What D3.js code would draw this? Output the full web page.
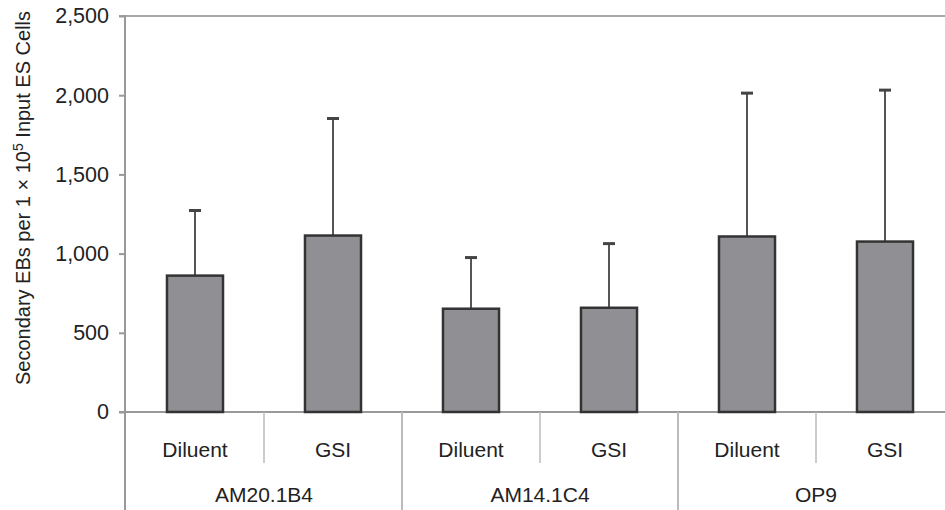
<!DOCTYPE html>
<html lang="en">
<head>
    <meta charset="UTF-8">
    <title>Secondary EBs</title>
    <style>
        body{
            margin: 0;
            background: #fff;
        }
        svg{
            display: block;
            font-family: "Liberation Sans", Arial, sans-serif;
        }
        .tick text{
            font-size: 21.5px;
            fill: #222;
        }
    </style>
    <script src="https://cdn.jsdelivr.net/npm/d3@7"></script>
</head>
<body>
<script>
    const width = 945
    const height = 510

    // values
    const groups = ["AM20.1B4", "AM14.1C4", "OP9"]
    const treatments = ["Diluent", "GSI"]
    const means = [861, 1114, 652, 658, 1108, 1076]
    const errs = [411, 739, 323, 405, 905, 956]
    const yTicks = [0, 500, 1000, 1500, 2000, 2500]

    const data = []
    groups.forEach((g, gi) => {
        treatments.forEach((t, ti) => {
            const i = gi * treatments.length + ti
            data.push({key: g + "|" + t, group: g, treat: t, mean: means[i], err: errs[i]})
        })
    })

    let svg = d3.select("body").append("svg")
        .attr("width", width)
        .attr("height", height)

    const y = d3.scaleLinear().domain([0, 2500]).range([412, 16])

    // plot runs past the right edge of the picture
    const x = d3.scaleBand()
        .domain(data.map(d => d.key))
        .range([126, 954])
        .paddingInner(0.594)
        .paddingOuter(0.297)

    const cell = d3.scaleBand().domain(data.map(d => d.key)).range([126, 954])
    const gx = d3.scaleBand().domain(groups).range([126, 954])

    // top border
    svg.append("line")
        .attr("x1", 119).attr("x2", width)
        .attr("y1", y(2500)).attr("y2", y(2500))
        .attr("stroke", "#a8a8a8").attr("stroke-width", 2)

    // baseline
    svg.append("line")
        .attr("x1", 119).attr("x2", width)
        .attr("y1", y(0)).attr("y2", y(0))
        .attr("stroke", "#999").attr("stroke-width", 2)

    // treatment separators
    svg.selectAll(".sub")
        .data(data.filter((d, i) => i % 2 === 1))
        .enter()
        .append("line")
        .attr("x1", d => cell(d.key)).attr("x2", d => cell(d.key))
        .attr("y1", y(0)).attr("y2", 463)
        .attr("stroke", "#bbb").attr("stroke-width", 1.5)

    // group separators
    svg.selectAll(".grp")
        .data(groups.slice(1))
        .enter()
        .append("line")
        .attr("x1", d => gx(d)).attr("x2", d => gx(d))
        .attr("y1", y(0)).attr("y2", height)
        .attr("stroke", "#bbb").attr("stroke-width", 2)

    // y axis
    let gAxis = svg.append("g")
        .attr("transform", "translate(125,0)")
        .call(d3.axisLeft(y)
            .tickValues(yTicks)
            .tickFormat(d3.format(","))
            .tickSize(6)
            .tickPadding(10))
    gAxis.select(".domain").remove()
    gAxis.selectAll(".tick line").attr("stroke", "#999").attr("stroke-width", 2)

    svg.append("line")
        .attr("x1", 125).attr("x2", 125)
        .attr("y1", y(2500) - 1).attr("y2", height)
        .attr("stroke", "#999").attr("stroke-width", 2)

    // error bars (upper only)
    let gErr = svg.selectAll(".err")
        .data(data)
        .enter()
        .append("g")
    gErr.append("line")
        .attr("x1", d => x(d.key) + x.bandwidth() / 2)
        .attr("x2", d => x(d.key) + x.bandwidth() / 2)
        .attr("y1", d => y(d.mean))
        .attr("y2", d => y(d.mean + d.err))
        .attr("stroke", "#555").attr("stroke-width", 2)
    gErr.append("line")
        .attr("x1", d => x(d.key) + x.bandwidth() / 2 - 6)
        .attr("x2", d => x(d.key) + x.bandwidth() / 2 + 6)
        .attr("y1", d => y(d.mean + d.err))
        .attr("y2", d => y(d.mean + d.err))
        .attr("stroke", "#444").attr("stroke-width", 3)

    // bars
    svg.selectAll(".bar")
        .data(data)
        .enter()
        .append("rect")
        .attr("x", d => x(d.key))
        .attr("width", x.bandwidth())
        .attr("y", d => y(d.mean))
        .attr("height", d => y(0) - y(d.mean))
        .attr("fill", "#909094")
        .attr("stroke", "#333")
        .attr("stroke-width", 2.5)

    // category labels
    svg.selectAll(".treat")
        .data(data)
        .enter()
        .append("text")
        .attr("x", d => cell(d.key) + cell.bandwidth() / 2)
        .attr("y", 457)
        .attr("text-anchor", "middle")
        .attr("font-size", 21)
        .attr("fill", "#222")
        .text(d => d.treat)

    svg.selectAll(".group")
        .data(groups)
        .enter()
        .append("text")
        .attr("x", d => gx(d) + gx.bandwidth() / 2)
        .attr("y", 502)
        .attr("text-anchor", "middle")
        .attr("font-size", 21)
        .attr("fill", "#222")
        .text(d => d)

    // y title
    let title = svg.append("text")
        .attr("transform", "translate(30,198) rotate(-90)")
        .attr("text-anchor", "middle")
        .attr("font-size", 20)
        .attr("fill", "#222")
    title.append("tspan").text("Secondary EBs per 1 \u00d7 10")
    title.append("tspan").attr("dy", -7).attr("font-size", 14).text("5")
    title.append("tspan").attr("dy", 7).text(" Input ES Cells")
</script>
</body>
</html>
